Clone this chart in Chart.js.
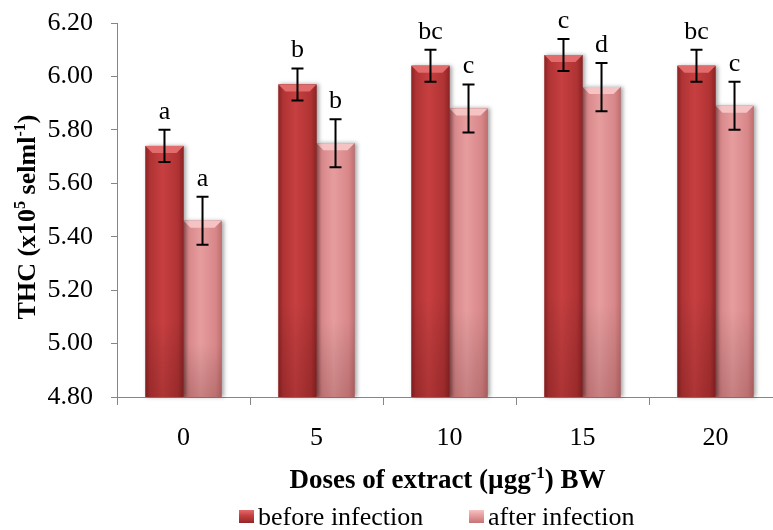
<!DOCTYPE html>
<html>
<head>
<meta charset="utf-8">
<script src="https://cdn.jsdelivr.net/npm/chart.js@4.4.0/dist/chart.umd.min.js"></script>
<style>
  html, body { margin: 0; padding: 0; background: #fff; overflow: hidden; width: 773px; height: 530px; }
  canvas { display: block; }
</style>
</head>
<body>
<canvas id="thcChart" width="790" height="530"></canvas>
<script>
// THC before / after infection by extract dose
const doses = ['0', '5', '10', '15', '20'];
const beforeInfection = [5.74, 5.97, 6.04, 6.08, 6.04];
const afterInfection = [5.46, 5.75, 5.88, 5.96, 5.89];
const beforeError = [0.06, 0.06, 0.06, 0.06, 0.06];
const afterError = [0.09, 0.09, 0.09, 0.09, 0.09];
const beforeLetters = ['a', 'b', 'bc', 'c', 'bc'];
const afterLetters = ['a', 'b', 'c', 'd', 'c'];
const seriesNames = ['before infection', 'after infection'];

const FONT = '"Liberation Serif", "Times New Roman", serif';
const errors = [beforeError, afterError];
const letters = [beforeLetters, afterLetters];

const shades = [
    { edge: '#8c2325', side: '#b03334', mid: '#c73f40', top: '#e26b6b', base: '#b83637' },
    { edge: '#c06e70', side: '#d88789', mid: '#e69c9d', top: '#f5c3c3', base: '#dc8d8f' }
];

// write text with superscript parts, e.g. [{t: 'x10'}, {t: '5', sup: true}]
function drawRich(ctx, parts, x, y, size) {
    const full = `bold ${size}px ${FONT}`;
    const small = `bold ${Math.round(size * 0.62)}px ${FONT}`;
    let total = 0;
    parts.forEach(p => {
        ctx.font = p.sup ? small : full;
        p.w = ctx.measureText(p.t).width;
        total += p.w;
    });
    let cx = x - total / 2;
    ctx.textAlign = 'left';
    ctx.textBaseline = 'alphabetic';
    parts.forEach(p => {
        ctx.font = p.sup ? small : full;
        ctx.fillText(p.t, cx, p.sup ? y - size * 0.38 : y);
        cx += p.w;
    });
}

const barShading = {
    id: 'barShading',
    afterDatasetDraw(chart, args) {
        const ctx = chart.ctx;
        const s = shades[args.index];
        const bottom = chart.chartArea.bottom;
        ctx.save();
        args.meta.data.forEach(bar => {
            const { x, y, base, width } = bar.getProps(['x', 'y', 'base', 'width'], true);
            const left = x - width / 2, right = x + width / 2;
            const foot = Math.min(base, bottom);
            const g = ctx.createLinearGradient(left, 0, right, 0);
            g.addColorStop(0, s.edge);
            g.addColorStop(0.12, s.side);
            g.addColorStop(0.45, s.mid);
            g.addColorStop(0.85, s.side);
            g.addColorStop(1, s.edge);
            ctx.shadowColor = 'rgba(0,0,0,0.35)';
            ctx.shadowBlur = 4;
            ctx.shadowOffsetX = 2;
            ctx.shadowOffsetY = 0;
            ctx.fillStyle = g;
            ctx.fillRect(left, y, width, foot - y);
            ctx.shadowColor = 'transparent';
            // slightly darker toward the base
            const v = ctx.createLinearGradient(0, y, 0, foot);
            v.addColorStop(0, 'rgba(0,0,0,0)');
            v.addColorStop(0.7, 'rgba(0,0,0,0)');
            v.addColorStop(1, 'rgba(60,0,0,0.18)');
            ctx.fillStyle = v;
            ctx.fillRect(left, y, width, foot - y);
            // bevelled top
            const b = 7;
            ctx.fillStyle = s.top;
            ctx.beginPath();
            ctx.moveTo(left, y);
            ctx.lineTo(right, y);
            ctx.lineTo(right - b, y + b);
            ctx.lineTo(left + b, y + b);
            ctx.closePath();
            ctx.fill();
        });
        ctx.restore();
    }
};

const errorBars = {
    id: 'errorBars',
    afterDatasetsDraw(chart) {
        const ctx = chart.ctx;
        const yScale = chart.scales.y;
        ctx.save();
        ctx.strokeStyle = '#000';
        ctx.lineWidth = 2;
        ctx.fillStyle = '#000';
        ctx.font = `26px ${FONT}`;
        ctx.textAlign = 'center';
        ctx.textBaseline = 'alphabetic';
        chart.data.datasets.forEach((ds, i) => {
            chart.getDatasetMeta(i).data.forEach((bar, j) => {
                const v = ds.data[j];
                const e = errors[i][j];
                const top = yScale.getPixelForValue(v + e);
                const bot = yScale.getPixelForValue(v - e);
                ctx.beginPath();
                ctx.moveTo(bar.x, top); ctx.lineTo(bar.x, bot);
                ctx.moveTo(bar.x - 6, top); ctx.lineTo(bar.x + 6, top);
                ctx.moveTo(bar.x - 6, bot); ctx.lineTo(bar.x + 6, bot);
                ctx.stroke();
                ctx.fillText(letters[i][j], bar.x, top - 11);
            });
        });
        ctx.restore();
    }
};

const titlesAndLegend = {
    id: 'titlesAndLegend',
    afterDraw(chart) {
        const ctx = chart.ctx;
        ctx.save();
        ctx.fillStyle = '#000';
        const area = chart.chartArea;
        drawRich(ctx, [{ t: 'Doses of extract (µgg' }, { t: '-1', sup: true }, { t: ') BW' }],
            (area.left + area.right) / 2 - 2, 488, 27);
        ctx.save();
        ctx.translate(35, 217);
        ctx.rotate(-Math.PI / 2);
        drawRich(ctx, [{ t: 'THC (x10' }, { t: '5', sup: true }, { t: ' selml' }, { t: '-1', sup: true }, { t: ')' }], 0, 0, 26);
        ctx.restore();

        // legend
        const items = [{ x: 239 }, { x: 469 }];
        ctx.font = `26px ${FONT}`;
        ctx.textBaseline = 'alphabetic';
        ctx.textAlign = 'left';
        items.forEach((it, i) => {
            const s = shades[i];
            const g = ctx.createLinearGradient(0, 510, 0, 524);
            g.addColorStop(0, s.top);
            g.addColorStop(0.4, s.mid);
            g.addColorStop(1, s.edge);
            ctx.fillStyle = g;
            ctx.fillRect(it.x, 510, 15, 13);
            ctx.fillStyle = '#000';
            ctx.fillText(seriesNames[i], it.x + 19, 525);
        });
        ctx.restore();
    }
};

const axisGray = '#868686';

new Chart(document.getElementById('thcChart'), {
    type: 'bar',
    data: {
        labels: doses,
        datasets: [
            { label: seriesNames[0], data: beforeInfection, backgroundColor: shades[0].base, borderWidth: 0 },
            { label: seriesNames[1], data: afterInfection, backgroundColor: shades[1].base, borderWidth: 0 }
        ]
    },
    options: {
        responsive: false,
        animation: false,
        devicePixelRatio: 1,
        layout: { padding: { top: 23, right: 8, left: 0, bottom: 0 } },
        datasets: { bar: { barPercentage: 1.0, categoryPercentage: 0.572 } },
        plugins: {
            legend: { display: false },
            tooltip: { enabled: false }
        },
        scales: {
            x: {
                grid: { display: true, drawOnChartArea: false, offset: true, tickLength: 8, color: axisGray, lineWidth: 1 },
                border: { color: axisGray, width: 1 },
                ticks: { color: '#000', font: { family: FONT, size: 26 }, padding: 18 },
                afterFit(scale) {
                    scale.height = 133;
                    scale.paddingLeft = 0;
                    scale.paddingRight = 0;
                }
            },
            y: {
                min: 4.8,
                max: 6.2,
                grid: { display: true, drawOnChartArea: false, tickLength: 6, color: axisGray, lineWidth: 1 },
                border: { color: axisGray, width: 1 },
                ticks: {
                    stepSize: 0.2,
                    color: '#000',
                    font: { family: FONT, size: 26 },
                    padding: 18,
                    callback: v => Number(v).toFixed(2)
                },
                afterFit(scale) {
                    scale.width = 117;
                    scale.paddingTop = 0;
                    scale.paddingBottom = 0;
                }
            }
        }
    },
    plugins: [barShading, errorBars, titlesAndLegend]
});
</script>
</body>
</html>
